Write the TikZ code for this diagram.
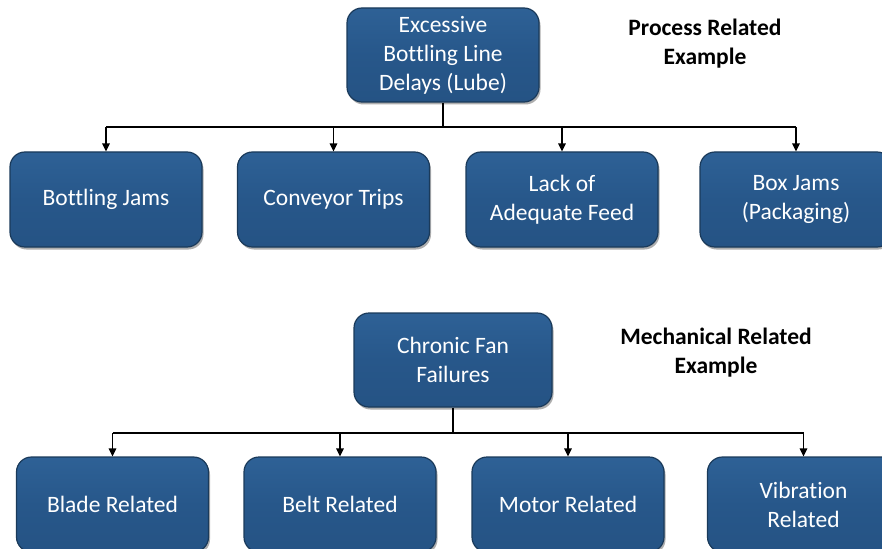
\documentclass[tikz,border=0pt]{standalone}
\usepackage{fontspec}
\setmainfont{Carlito}[Ligatures={NoCommon}]
\usetikzlibrary{arrows.meta,shadows}
\definecolor{boxfill}{HTML}{27578A}
\definecolor{boxtop}{HTML}{2E6196}
\definecolor{boxbottom}{HTML}{255384}
\definecolor{boxedge}{HTML}{1A3A5A}
\tikzset{
  causebox/.style={rectangle, rounded corners=15pt, draw=boxedge, line width=1.2pt,
    top color=boxtop, bottom color=boxbottom, middle color=boxfill,
    drop shadow={shadow xshift=1.5pt, shadow yshift=-2.5pt, opacity=0.45, fill=black!70},
    text=white, align=center, font=\fontsize{23.5}{29}\selectfont,
    minimum width=192pt, minimum height=95pt, inner sep=0pt},
  rootbox/.style={causebox, minimum height=94pt},
  caption/.style={align=center, font=\fontsize{23.5}{29}\selectfont\bfseries, text=black},
  branch/.style={draw=black, line width=1.5pt, -{Triangle[length=8pt,width=7.5pt]}},
}
\begin{document}
\begin{tikzpicture}[x=1pt,y=-1pt]
\useasboundingbox (0,0) rectangle (882,548);
\clip (0,0) rectangle (882,548);

% Process related tree
\node[rootbox] (p0) at (443,55) {Excessive\\Bottling Line\\Delays (Lube)};
\node[causebox] (p1) at (106,199.5) {Bottling Jams};
\node[causebox] (p2) at (333.5,199.5) {Conveyor Trips};
\node[causebox] (p3) at (562,199.5) {Lack of\\Adequate Feed};
\node[causebox] (p4) at (796,199.5) {Box Jams\\(Packaging)};
\node[caption] (pc) at (705,44) {Process Related\\Example};

\coordinate (pbus) at (0,127);
\draw[line width=1.5pt] (p0.south) -- (p0.south |- pbus);
\draw[line width=1.5pt] (p1.north |- pbus) -- (p4.north |- pbus);
\foreach \c in {p1,p2,p3,p4}
  \draw[branch] (\c.north |- pbus) -- (\c.north);

% Mechanical related tree
\node[rootbox, minimum width=198pt] (m0) at (453,360) {Chronic Fan\\Failures};
\node[causebox] (m1) at (112.5,504.5) {Blade Related};
\node[causebox] (m2) at (340,504.5) {Belt Related};
\node[causebox] (m3) at (568,504.5) {Motor Related};
\node[causebox] (m4) at (803.5,504.5) {Vibration\\Related};
\node[caption] (mc) at (716,353) {Mechanical Related\\Example};

\coordinate (mbus) at (0,433);
\draw[line width=1.5pt] (m0.south) -- (m0.south |- mbus);
\draw[line width=1.5pt] (m1.north |- mbus) -- (m4.north |- mbus);
\foreach \c in {m1,m2,m3,m4}
  \draw[branch] (\c.north |- mbus) -- (\c.north);
\end{tikzpicture}
\end{document}
